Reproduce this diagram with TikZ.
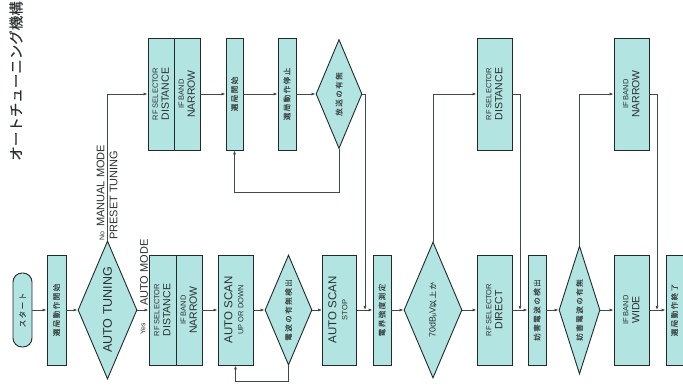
\documentclass[tikz,border=0pt]{standalone}
\usepackage{fontspec}
\usepackage{graphicx}
\setmainfont{Liberation Sans}
\newfontfamily\jp[LetterSpace=20,FakeBold=0.2]{Noto Sans CJK JP}
\newfontfamily\jptitle[FakeBold=0.15]{Noto Sans CJK JP}
\usetikzlibrary{shapes.geometric,arrows.meta}

\definecolor{boxfill}{RGB}{178,228,226}
\definecolor{edge}{RGB}{34,42,42}
\definecolor{wire}{RGB}{62,76,72}
\definecolor{ink}{RGB}{42,48,48}
\definecolor{jpink}{RGB}{62,70,70}

% font size shorthand and vertical text helpers
\newcommand{\fsz}[1]{\fontsize{#1}{#1}\selectfont}
\newcommand{\vtext}[1]{\rotatebox{90}{\begin{tabular}{@{}c@{}}#1\end{tabular}}}
\newcommand{\jpt}[1]{\rotatebox{90}{\color{jpink}\jp\fsz{7.5}#1}}

\begin{document}
\begin{tikzpicture}[x=1pt,y=-1pt,
  box/.style={draw=edge, fill=boxfill, line width=0.9pt, inner sep=0pt,
              minimum height=110pt, text=ink},
  tbox/.style={box, minimum height=112pt},
  capsule/.style={box, rounded corners=9pt, minimum height=74pt},
  dia/.style={diamond, draw=edge, fill=boxfill, line width=0.9pt,
              inner sep=0pt, shape aspect=0.45, text=ink},
  link/.style={draw=wire, line width=0.7pt},
  arr/.style={link, -{Latex[length=4pt,width=3pt]}},
  lab/.style={rotate=90, text=ink, inner sep=0pt},
]
\useasboundingbox (0,0) rectangle (683,386);
\fill[white] (0,0) rectangle (683,386);

% title
\node[lab, anchor=east, font={\jptitle\fsz{14.5}}] (title) at (16,1) {オートチューニング機構};

% ---- main row ----
\node[capsule, minimum width=19pt] (start) at (22.5,310) {\jpt{スタート}};
\node[box, minimum width=19pt] (begin) at (56.5,310) {\jpt{選局動作開始}};
\node[dia, minimum width=59pt, minimum height=138pt] (auto) at (107.5,310)
  {\rotatebox{90}{\fsz{12.5}AUTO TUNING}};
\node[box, minimum width=27pt] (bdA) at (162.5,310)
  {\vtext{{\fsz{7.5}RF SELECTOR}\\[-1pt]{\fsz{10.5}DISTANCE}}};
\node[box, minimum width=26pt] (bdB) at (189,310)
  {\vtext{{\fsz{7.5}IF BAND}\\[-1pt]{\fsz{10.5}NARROW}}};
\node[box, minimum width=35pt] (scan) at (235.5,310)
  {\vtext{{\fsz{11.5}AUTO SCAN}\\[-1pt]{\fsz{7.5}UP OR DOWN}}};
\node[dia, minimum width=47pt, minimum height=110pt] (detect) at (288.5,310) {\jpt{電波の有無検出}};
\node[box, minimum width=34pt] (stop) at (339.5,310)
  {\vtext{{\fsz{11.5}AUTO SCAN}\\[-1pt]{\fsz{7.5}STOP}}};
\node[box, minimum width=18pt] (measure) at (382,310) {\jpt{電界強度測定}};
\node[dia, minimum width=58pt, minimum height=136pt] (level) at (433,310)
  {\rotatebox{90}{\fsz{9}70dB{\fsz{6}μ}V{\color{jpink}\jp\fsz{7.5}以上か}}};
\node[box, minimum width=35pt] (direct) at (494.5,310)
  {\vtext{{\fsz{7.5}RF SELECTOR}\\[-1pt]{\fsz{10.5}DIRECT}}};
\node[box, minimum width=18pt] (interf) at (537,310) {\jpt{妨害電波の検出}};
\node[dia, minimum width=41pt, minimum height=128pt] (interfq) at (579.5,310) {\jpt{妨害電波の有無}};
\node[box, minimum width=35pt] (wide) at (631.5,310)
  {\vtext{{\fsz{7.5}IF BAND}\\[-1pt]{\fsz{10.5}WIDE}}};
\node[box, minimum width=17pt] (finish) at (674.5,310) {\jpt{選局動作終了}};

% ---- upper row ----
\node[tbox, minimum width=26pt] (tdA) at (161,94)
  {\vtext{{\fsz{7.5}RF SELECTOR}\\[-1pt]{\fsz{10.5}DISTANCE}}};
\node[tbox, minimum width=26pt] (tdB) at (187,94)
  {\vtext{{\fsz{7.5}IF BAND}\\[-1pt]{\fsz{10.5}NARROW}}};
\node[tbox, minimum width=17pt] (seek) at (234.5,94) {\jpt{選局開始}};
\node[tbox, minimum width=18pt] (halt) at (287,94) {\jpt{選局動作停止}};
\node[dia, minimum width=46pt, minimum height=109pt] (bcast) at (339,94) {\jpt{放送の有無}};
\node[tbox, minimum width=35pt] (tdist) at (494.5,94)
  {\vtext{{\fsz{7.5}RF SELECTOR}\\[-1pt]{\fsz{10.5}DISTANCE}}};
\node[tbox, minimum width=35pt] (tnarrow) at (631.5,94)
  {\vtext{{\fsz{7.5}IF BAND}\\[-1pt]{\fsz{10.5}NARROW}}};

% branch labels
\node[lab, anchor=west] (nolab) at (100.5,241) {{\fsz{7}No}\enspace{\fsz{11}MANUAL MODE}};
\node[lab, anchor=west, font=\fsz{11}] (presetlab) at (113.5,240) {PRESET TUNING};
\node[lab, anchor=west, font=\fsz{7}] (yeslab) at (143,335) {Yes};
\node[lab, anchor=west, font=\fsz{11}] (autolab) at (144,306) {AUTO MODE};

% junction points on the main line
\coordinate (j1) at (365,310);
\coordinate (j2) at (520,310);
\coordinate (j3) at (657,310);
\coordinate (bloop) at (339,192);
\coordinate (dloop) at (288.5,381);

% ---- connectors ----
\draw[arr] (start) -- (begin);
\draw[arr] (begin) -- (auto);
\draw[arr] (auto.east) -- (bdA);
\draw[arr] (auto.north) |- (tdA.west);
\draw[arr] (bdB) -- (scan);
\draw[arr] (scan) -- (detect);
\draw[arr] (detect) -- (stop);
\draw[arr] (detect.south) -- (dloop) -| (scan.south);
\draw[arr] (stop) -- (measure);
\draw[arr] (measure) -- (level);
\draw[arr] (level) -- (direct);
\draw[arr] (level.north) |- (tdist.west);
\draw[arr] (direct) -- (interf);
\draw[arr] (interf) -- (interfq);
\draw[arr] (interfq) -- (wide);
\draw[arr] (interfq.north) |- (tnarrow.west);
\draw[arr] (wide) -- (finish);

\draw[arr] (tdB) -- (seek);
\draw[arr] (seek) -- (halt);
\draw[arr] (halt) -- (bcast);
\draw[arr] (bcast.south) -- (bloop) -| (seek.south);
\draw[arr] (bcast.east) -| (j1);
\draw[arr] (tdist.east) -| (j2);
\draw[arr] (tnarrow.east) -| (j3);
\end{tikzpicture}
\end{document}
